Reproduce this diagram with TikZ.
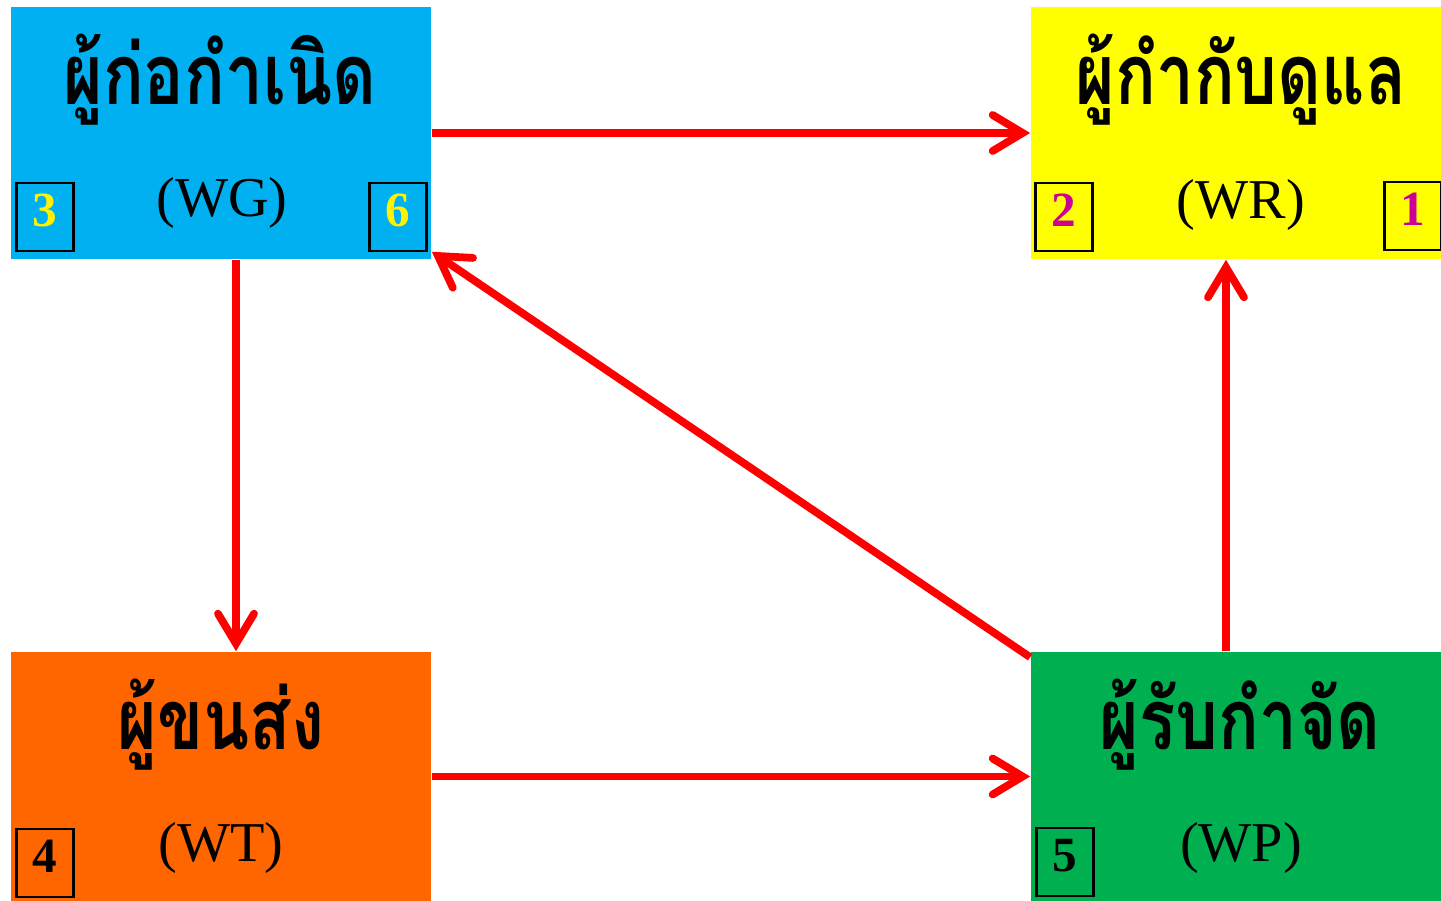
\documentclass[tikz,border=0pt]{standalone}
\usepackage{fontspec}
\usetikzlibrary{arrows.meta}
\setmainfont{Liberation Serif}
\newfontfamily\thaifont[Script=Thai,FakeStretch=0.8]{Loma}
\definecolor{wgcolor}{RGB}{0,176,240}
\definecolor{wrcolor}{RGB}{255,255,0}
\definecolor{wtcolor}{RGB}{255,102,0}
\definecolor{wpcolor}{RGB}{0,176,80}
\definecolor{numcolor}{RGB}{204,0,153}
\definecolor{flowcolor}{RGB}{255,0,0}

\begin{document}
\begin{tikzpicture}[x=0.01cm,y=-0.01cm,
  party/.style={rectangle,inner sep=0pt,minimum width=4.2cm,minimum height=2.52cm},
  thtitle/.style={anchor=base,inner sep=0pt,font=\thaifont\bfseries\fontsize{24}{28}\selectfont},
  abbr/.style={anchor=base,inner sep=0pt,font=\fontsize{16}{18}\selectfont},
  numbox/.style={draw=black,line width=0.7pt,inner sep=0pt,minimum width=0.57cm,
    minimum height=0.68cm,text depth=0.13cm,font=\bfseries\fontsize{14}{16}\selectfont},
  flow/.style={draw=flowcolor,line width=2.2pt,
    -{Straight Barb[length=0.3cm,width=0.36cm,line cap=round]}}]
\useasboundingbox (0,0) rectangle (1441,901);
% the four parties, origin top-left, one unit is one pixel
\node[party,fill=wgcolor] (wg) at (221,133) {};
\node[party,fill=wrcolor,minimum width=4.1cm] (wr) at (1236,133) {};
\node[party,fill=wtcolor,minimum height=2.49cm] (wt) at (221,776.5) {};
\node[party,fill=wpcolor,minimum width=4.1cm,minimum height=2.49cm] (wp) at (1236,776.5) {};
% names
\node[thtitle] (wg-name) at (220,105) {ผู้ก่อกำเนิด};
\node[thtitle] (wr-name) at (1241,105) {ผู้กำกับดูแล};
\node[thtitle] (wt-name) at (221,750) {ผู้ขนส่ง};
\node[thtitle] (wp-name) at (1240,750) {ผู้รับกำจัด};
\node[abbr] (wg-abbr) at (222,217) {(WG)};
\node[abbr] (wr-abbr) at (1241,219) {(WR)};
\node[abbr] (wt-abbr) at (221,862) {(WT)};
\node[abbr] (wp-abbr) at (1241,862) {(WP)};
% step numbers
\node[numbox,text=yellow] (n3) at (45,217) {3};
\node[numbox,text=yellow] (n6) at (398,217) {6};
\node[numbox,text=numcolor] (n2) at (1064,217) {2};
\node[numbox,text=numcolor] (n1) at (1413,216) {1};
\node[numbox] (n4) at (45,863) {4};
\node[numbox] (n5) at (1065,862) {5};
% flows
\draw[flow] (wg) -- (wr);
\draw[flow] ([xshift=0.15cm]wg.south) -- ([xshift=0.15cm]wt.north);
\draw[flow] (wt) -- (wp);
\draw[flow] ([xshift=-0.1cm]wp.north) -- ([xshift=-0.1cm]wr.south);
\draw[flow] ([yshift=-0.06cm]wp.north west) -- ([yshift=0.08cm]wg.south east);
\end{tikzpicture}
\end{document}
